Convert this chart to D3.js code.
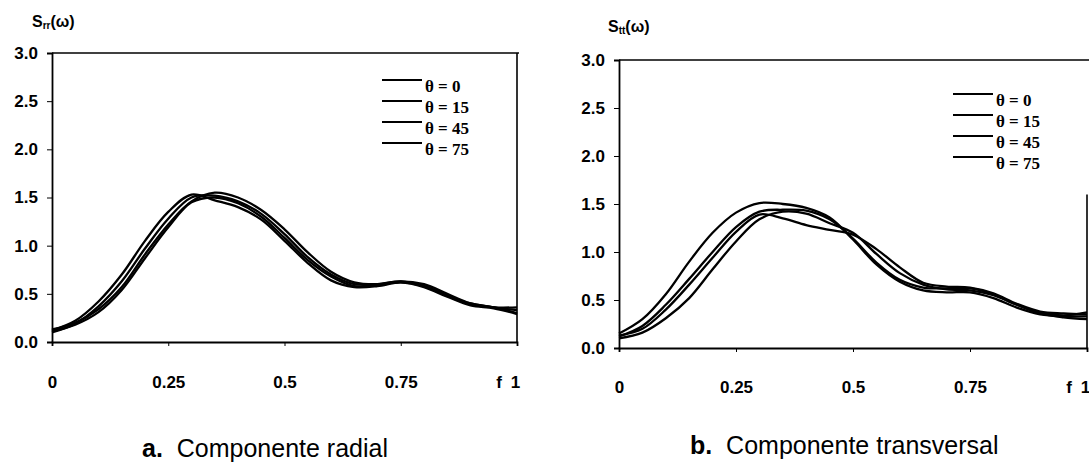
<!DOCTYPE html>
<html>
<head>
<meta charset="utf-8">
<script src="https://cdn.jsdelivr.net/npm/d3@7"></script>
<style>
  body { margin: 0; background: #fff; }
  text { font-family: "Liberation Sans", Arial, sans-serif; fill: #000; }
  .tick text { font-weight: bold; font-size: 17px; }
  .legend text { font-family: "Liberation Serif", "Times New Roman", serif; font-weight: bold; font-size: 17px; }
</style>
</head>
<body>
<svg id="chart" width="1089" height="467"></svg>
<script>
// frequency f (normalised)
const freq = [0, 0.05, 0.1, 0.15, 0.2, 0.25, 0.3, 0.35, 0.4, 0.45, 0.5,
    0.55, 0.6, 0.65, 0.7, 0.75, 0.8, 0.85, 0.9, 0.95, 1];

const thetaLabels = ["θ = 0", "θ = 15", "θ = 45", "θ = 75"];
const yTicks = [0, 0.5, 1, 1.5, 2, 2.5, 3];
const xTicks = [0, 0.25, 0.5, 0.75, 1];

// a. radial component
const rad0  = [0.12, 0.22, 0.42, 0.70, 1.05, 1.35, 1.53, 1.47, 1.40, 1.27, 1.05, 0.82, 0.64, 0.57, 0.58, 0.62, 0.58, 0.48, 0.40, 0.36, 0.33];
const rad15 = [0.10, 0.19, 0.37, 0.63, 0.97, 1.28, 1.50, 1.52, 1.46, 1.33, 1.12, 0.88, 0.70, 0.60, 0.60, 0.63, 0.60, 0.50, 0.40, 0.36, 0.30];
const rad45 = [0.13, 0.20, 0.34, 0.57, 0.91, 1.22, 1.46, 1.55, 1.50, 1.37, 1.17, 0.93, 0.73, 0.62, 0.60, 0.63, 0.58, 0.48, 0.39, 0.36, 0.36];
const rad75 = [0.11, 0.18, 0.31, 0.54, 0.87, 1.19, 1.45, 1.50, 1.44, 1.30, 1.08, 0.85, 0.68, 0.58, 0.59, 0.62, 0.57, 0.47, 0.38, 0.35, 0.29];

// b. transversal component
const tr0  = [0.15, 0.30, 0.56, 0.90, 1.20, 1.41, 1.51, 1.50, 1.46, 1.36, 1.13, 0.87, 0.69, 0.60, 0.58, 0.58, 0.52, 0.42, 0.35, 0.33, 0.33];
const tr15 = [0.12, 0.23, 0.45, 0.72, 1.00, 1.26, 1.42, 1.44, 1.43, 1.34, 1.14, 0.89, 0.71, 0.63, 0.62, 0.62, 0.56, 0.45, 0.37, 0.34, 0.37];
const tr45 = [0.13, 0.20, 0.40, 0.66, 0.94, 1.21, 1.39, 1.35, 1.28, 1.23, 1.18, 1.03, 0.84, 0.68, 0.64, 0.63, 0.57, 0.46, 0.38, 0.36, 0.35];
const tr75 = [0.10, 0.16, 0.31, 0.52, 0.82, 1.11, 1.34, 1.42, 1.40, 1.30, 1.20, 0.98, 0.78, 0.66, 0.61, 0.60, 0.55, 0.45, 0.36, 0.32, 0.30];

const svg = d3.select("#chart");
svg.append("rect").attr("width", 1089).attr("height", 467).attr("fill", "#fff");

function drawPanel(p) {
    const x = d3.scaleLinear().domain([0, 1]).range([p.x0, p.x1]);
    const y = d3.scaleLinear().domain([0, 3]).range([p.y0, p.y1]);
    const g = svg.append("g");

    // frame: top line and right border
    g.append("line").attr("x1", x(0)).attr("x2", p.topEnd).attr("y1", y(3)).attr("y2", y(3))
        .attr("stroke", "#000").attr("stroke-width", 1.6);
    g.append("line").attr("x1", x(1)).attr("x2", x(1)).attr("y1", y(p.rightFrom)).attr("y2", y(0))
        .attr("stroke", "#000").attr("stroke-width", 1.6);

    // axes
    const yAxis = g.append("g").attr("transform", "translate(" + x(0) + ",0)")
        .call(d3.axisLeft(y).tickValues(yTicks).tickFormat(d3.format(".1f")).tickSize(5).tickPadding(9));
    const xAxis = g.append("g").attr("transform", "translate(0," + y(0) + ")")
        .call(d3.axisBottom(x).tickValues(xTicks).tickFormat(d => d === 0 ? "0" : String(d)).tickSize(4).tickPadding(p.xPad));
    [yAxis, xAxis].forEach(a => {
        a.select(".domain").attr("stroke", "#000").attr("stroke-width", 1.8);
        a.selectAll(".tick line").attr("stroke", "#000");
        a.selectAll(".tick text").attr("fill", "#000");
    });
    xAxis.selectAll(".tick text").filter(d => d === 1).attr("dx", "-2");

    // f label next to 1
    g.append("text").attr("x", x(1) - 18).attr("y", y(0) + 4 + p.xPad).attr("dy", "0.71em")
        .attr("text-anchor", "middle").style("font-weight", "bold").style("font-size", "17px").text("f");

    // y axis title S(ω)
    const t = g.append("text").attr("x", p.titleX).attr("y", p.titleY)
        .style("font-weight", "bold").style("font-size", "16px");
    t.append("tspan").text("S");
    t.append("tspan").attr("dy", 2).style("font-size", "10px").text(p.sub);
    t.append("tspan").attr("dy", -2).text("(ω)");

    // curves
    const line = d3.line().x((d, i) => x(freq[i])).y(d => y(d)).curve(d3.curveCatmullRom.alpha(0.5));
    p.series.forEach(s => {
        g.append("path").attr("d", line(s)).attr("fill", "none")
            .attr("stroke", "#000").attr("stroke-width", 2.3).attr("stroke-linejoin", "round");
    });

    // legend
    const lg = g.append("g").attr("class", "legend");
    thetaLabels.forEach((lab, i) => {
        const cy = p.legY + i * 21;
        lg.append("line").attr("x1", p.legX).attr("x2", p.legX + 40).attr("y1", cy - 6).attr("y2", cy - 6)
            .attr("stroke", "#000").attr("stroke-width", 2);
        lg.append("text").attr("x", p.legX + 43).attr("y", cy).attr("dy", "0.35em")
            .attr("xml:space", "preserve").text(lab);
    });

    // caption
    const c = g.append("text").attr("x", p.capX).attr("y", p.capY)
        .attr("xml:space", "preserve").style("font-size", "25px");
    c.append("tspan").style("font-weight", "bold").text(p.capLetter);
    c.append("tspan").text("  " + p.caption);
}

drawPanel({
    x0: 52, x1: 517, y0: 342, y1: 53, topEnd: 519, rightFrom: 3, xPad: 30,
    series: [rad0, rad15, rad45, rad75], sub: "rr", titleX: 32, titleY: 27,
    legX: 382, legY: 86, capX: 142, capY: 457, capLetter: "a.", caption: "Componente radial"
});

drawPanel({
    x0: 619, x1: 1087, y0: 348, y1: 60, topEnd: 1089, rightFrom: 1.6, xPad: 29,
    series: [tr0, tr15, tr45, tr75], sub: "tt", titleX: 608, titleY: 32,
    legX: 953, legY: 100, capX: 690, capY: 454, capLetter: "b.", caption: "Componente transversal"
});
</script>
</body>
</html>
